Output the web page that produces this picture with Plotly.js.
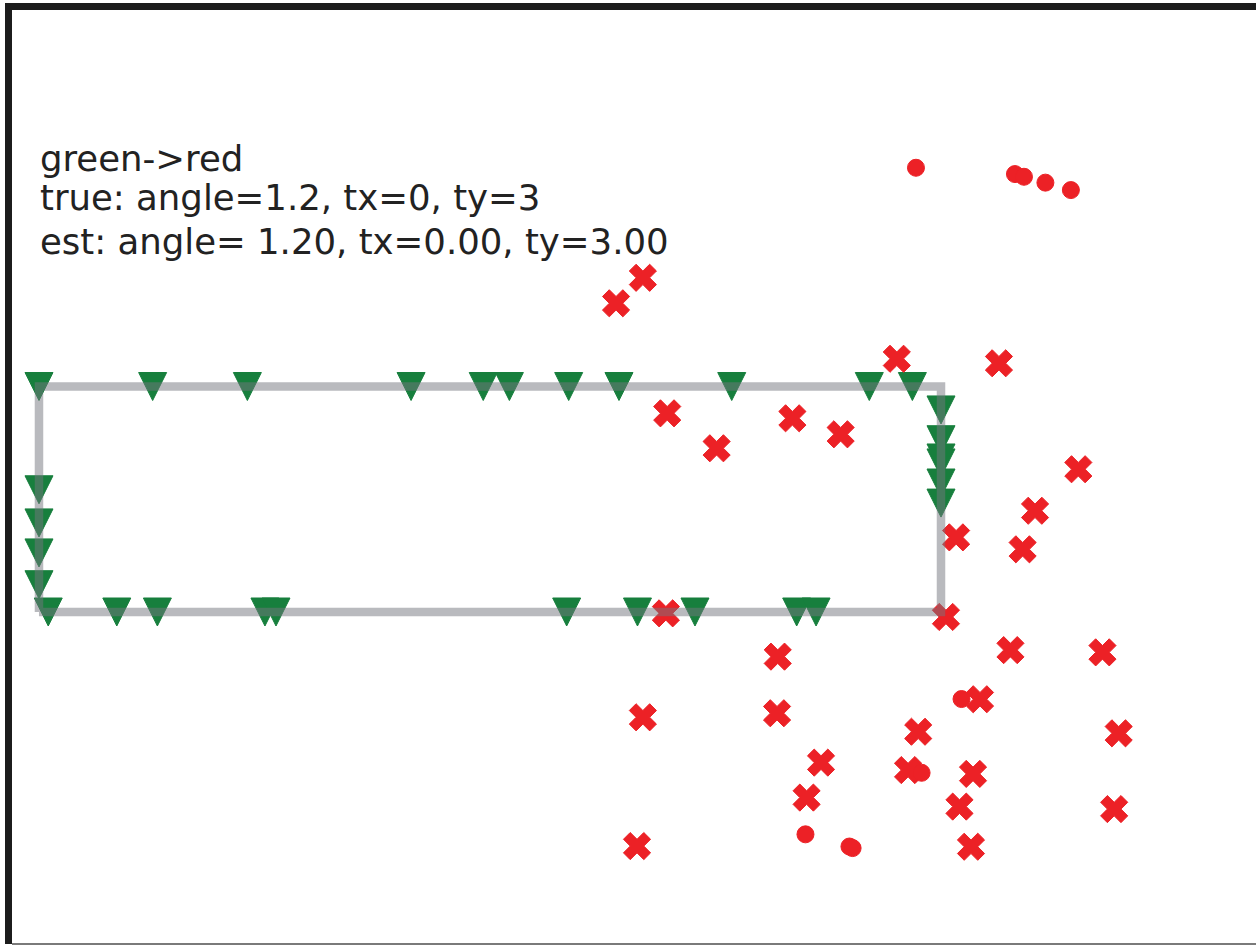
<!DOCTYPE html>
<html>
<head>
<meta charset="utf-8">
<script src="https://cdn.plot.ly/plotly-3.0.1.min.js"></script>
<style>
  html, body { margin: 0; padding: 0; background: #ffffff; overflow: hidden; }
  #chart { width: 1256px; height: 945px; }
</style>
</head>
<body>
<div id="chart"></div>
<script>
// ---- data ----
// outline (true shape)
const rectX = [0, 4, 4, 0, 0];
const rectY = [0, 0, 1, 1, 0];

// green (source) points along the outline
const greenX = [0.000, 0.504, 0.924, 1.650, 1.970, 2.086, 2.349, 2.572, 3.072, 3.682, 3.873,
                4, 4, 4, 4, 4, 4,
                0, 0, 0, 0,
                0.041, 0.345, 0.525, 1.002, 1.051, 2.340, 2.654, 2.909, 3.360, 3.446];
const greenY = [1, 1, 1, 1, 1, 1, 1, 1, 1, 1, 1,
                0.896, 0.764, 0.683, 0.661, 0.572, 0.483,
                0.542, 0.395, 0.262, 0.121,
                0, 0, 0, 0, 0, 0, 0, 0, 0, 0];

// red (target) points, crosses
const redX = [2.678, 2.559, 3.804, 4.257, 2.786, 3.005, 3.341, 3.555, 4.609, 4.417,
              4.362, 4.067, 2.780, 4.022, 3.276, 4.308, 4.716, 4.173, 2.678, 3.273,
              3.899, 4.788, 3.468, 3.854, 4.142, 3.404, 4.082, 4.768, 2.652, 4.133];
const redY = [1.482, 1.369, 1.123, 1.103, 0.881, 0.726, 0.859, 0.788, 0.633, 0.449,
              0.278, 0.331, -0.006, -0.022, -0.198, -0.169, -0.179, -0.387, -0.467, -0.449,
              -0.531, -0.538, -0.668, -0.701, -0.718, -0.823, -0.863, -0.874, -1.038, -1.041];

// red dots
const dotX = [3.889, 4.328, 4.368, 4.463, 4.576, 4.091, 3.914, 3.399, 3.594, 3.608];
const dotY = [1.970, 1.942, 1.930, 1.904, 1.871, -0.386, -0.713, -0.986, -1.040, -1.047];

// text lines
const infoLines = [
  "green->red",
  "true: angle=1.2, tx=0, ty=3",
  "est: angle= 1.20, tx=0.00, ty=3.00"
];

// ---- styling / layout ----
const GREEN = "#177f3d";
const RED = "#ec2126";
const PXU = 225.5; // pixels per data unit
const xRange = [-0.1197, 5.3969];
const yRange = [-1.4723, 2.6696];
// triangle marker (arrow-down) has its tip at the point: shift axis by half its height
const TRI = 28;
const triShift = (TRI / 2) / PXU;
const yRangeTri = [yRange[0] + triShift, yRange[1] + triShift];

const traces = [
  {
    x: greenX, y: greenY, xaxis: "x", yaxis: "y",
    type: "scatter", mode: "markers",
    marker: { symbol: "arrow-down", size: TRI, color: GREEN, line: { color: GREEN, width: 1 } },
    hoverinfo: "skip"
  },
  {
    x: redX, y: redY, xaxis: "x", yaxis: "y2",
    type: "scatter", mode: "markers",
    marker: { symbol: "x", size: 24, color: RED, line: { color: RED, width: 1 } },
    hoverinfo: "skip"
  },
  {
    x: dotX, y: dotY, xaxis: "x", yaxis: "y2",
    type: "scatter", mode: "markers",
    marker: { symbol: "circle", size: 17, color: RED, line: { color: RED, width: 1 } },
    hoverinfo: "skip"
  },
  {
    x: rectX, y: rectY, xaxis: "x", yaxis: "y2",
    type: "scatter", mode: "lines",
    line: { color: "rgba(115,117,125,0.5)", width: 8.5 },
    hoverinfo: "skip"
  }
];

const lineYs = [2.013, 1.836, 1.641];
const annotations = infoLines.map((t, i) => ({
  text: t, x: -0.003, y: lineYs[i], xref: "x", yref: "y2",
  xanchor: "left", yanchor: "middle", showarrow: false,
  font: { family: "DejaVu Sans", size: 35.5, color: "#222222" }
}));

const layout = {
  width: 1256, height: 945,
  margin: { l: 12, r: 0, t: 10, b: 1, pad: 0 },
  paper_bgcolor: "#ffffff", plot_bgcolor: "#ffffff",
  showlegend: false,
  xaxis: {
    range: xRange, side: "top", showgrid: false, zeroline: false,
    showticklabels: false, ticks: "", showline: true, linecolor: "#1c1c1c", linewidth: 7
  },
  yaxis: {
    range: yRangeTri, showgrid: false, zeroline: false,
    showticklabels: false, ticks: "", showline: true, linecolor: "#1c1c1c", linewidth: 7
  },
  yaxis2: {
    range: yRange, overlaying: "y", showgrid: false, zeroline: false,
    showticklabels: false, ticks: "", showline: false
  },
  shapes: [
    { type: "line", xref: "paper", yref: "paper", x0: 0, x1: 1, y0: 0, y1: 0,
      line: { color: "#7a7a7a", width: 2 } }
  ],
  annotations: annotations
};

Plotly.newPlot("chart", traces, layout, { staticPlot: true, displayModeBar: false });
</script>
</body>
</html>
